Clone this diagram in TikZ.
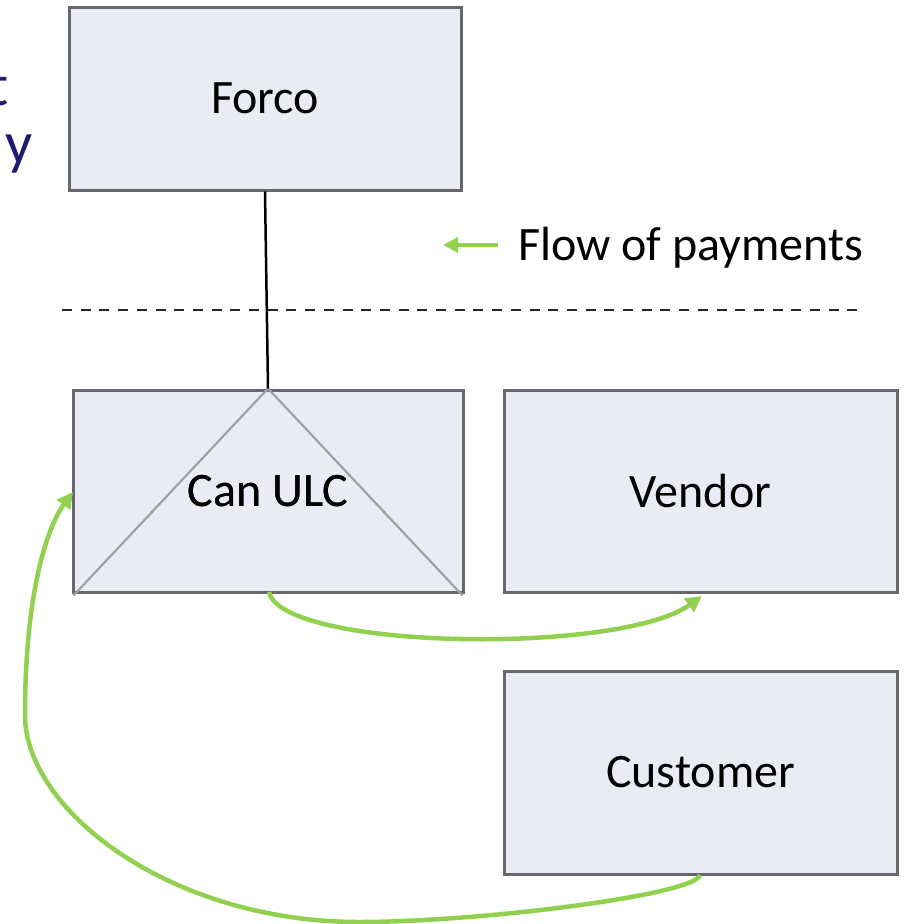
\documentclass[tikz,border=0pt]{standalone}
\usepackage{fontspec}
\setmainfont{Carlito}
\usetikzlibrary{arrows.meta}
\definecolor{boxfill}{HTML}{E9EBF5}
\definecolor{boxline}{HTML}{66666C}
\definecolor{diagline}{HTML}{A0A0A8}
\definecolor{paygreen}{HTML}{92D050}
\definecolor{titlenavy}{HTML}{1E1B6F}
\tikzset{
  entity/.style={draw=boxline, fill=boxfill, line width=3pt, rectangle, inner sep=0pt,
    font=\fontsize{48}{56}\selectfont},
  payflow/.style={draw=paygreen, line width=4.5pt, -{Triangle[length=16pt,width=16pt]}},
  ownership/.style={draw=black, line width=2.5pt},
  border/.style={draw=black!85, line width=2.5pt, dash pattern=on 10pt off 8.7pt},
  titletext/.style={text=titlenavy, font=\fontsize{60}{68}\selectfont, inner sep=0pt},
}
\begin{document}
\begin{tikzpicture}[x=1pt,y=-1pt]
\useasboundingbox (0,0) rectangle (907,924);
\begin{scope}
\clip (0,0) rectangle (907,924);
\node[titletext, anchor=base east] (tl1) at (9,105) {t};
\node[titletext, anchor=base east] (tl2) at (33,163) {y};
\end{scope}
% boxes
\node[entity, minimum width=392pt, minimum height=183pt] (forco) at (265,98.5) {Forco};
\node[entity, minimum width=390pt, minimum height=202pt] (ulc) at (268,491) {Can ULC};
\node[entity, minimum width=393pt, minimum height=202pt] (vendor) at (700.5,491) {Vendor};
\node[entity, minimum width=393pt, minimum height=203pt] (customer) at (700.5,772.5) {Customer};
% diagonal lines in Can ULC
\coordinate (apex) at (ulc.north);
\coordinate (bl) at ([shift={(2pt,-2pt)}]ulc.south west);
\coordinate (br) at ([shift={(-2pt,-2pt)}]ulc.south east);
\draw[diagline, line width=2.2pt] (bl) -- (apex) -- (br);
\node[entity, draw=none, fill=none] at (ulc.center) {Can ULC};
% ownership line
\draw[ownership] (forco.south) -- (ulc.north);
% border dashed
\coordinate (bd1) at (62,310);
\coordinate (bd2) at (858,310);
\draw[border] (bd1) -- (bd2);
% legend
\coordinate (lg1) at (498,245);
\coordinate (lg2) at (443,245);
\draw[draw=paygreen, line width=4pt, -{Triangle[length=15pt,width=15pt]}] (lg1) -- (lg2);
\node[anchor=base west, inner sep=0pt, font=\fontsize{48}{56}\selectfont] (legend) at (518,260) {Flow of payments};
% payment flows
\coordinate (ulcout) at (269,592);
\coordinate (vendin) at (702,596);
\draw[payflow] (ulcout) .. controls (282,650) and (620,655) .. (vendin);
\coordinate (custout) at (700,875);
\coordinate (low) at (359,922);
\coordinate (leftmost) at (25,715);
\coordinate (ulcin) at (73,492);
\draw[payflow] (custout) .. controls (695,895) and (480,922) .. (low)
  .. controls (170,922) and (25,810) .. (leftmost)
  .. controls (25,600) and (45,530) .. (ulcin);
\end{tikzpicture}
\end{document}
